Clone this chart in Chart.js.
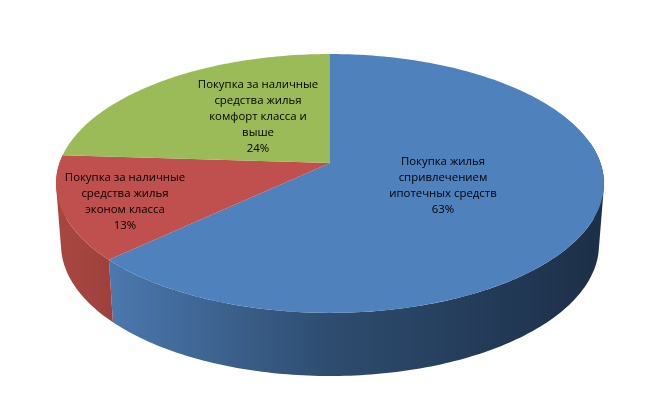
<!DOCTYPE html>
<html>
<head>
<meta charset="utf-8">
<style>
    html, body { margin: 0; padding: 0; background: #fff; }
    #mine { display: block; }
</style>
<script src="https://cdn.jsdelivr.net/npm/chart.js@4/dist/chart.umd.min.js"></script>
</head>
<body>
<canvas id="mine" width="665" height="417"></canvas>
<script>
    const categories = [
        ["Покупка жилья", "спривлечением", "ипотечных средств"],
        ["Покупка за наличные", "средства жилья", "эконом класса"],
        ["Покупка за наличные", "средства жилья", "комфорт класса и", "выше"]
    ];
    const shares = [63, 13, 24];
    const topColors = ["#4f81bd", "#c0504d", "#9bbb59"];
    const wallColors = [
        ["#4b78ae", "#2e4c6f", "#1c2f48"],
        ["#a8473f", "#a3443f", "#9c403c"],
        ["#7f9a49", "#7f9a49", "#7f9a49"]
    ];
    // centre of each text block
    const labelCentres = [[443, 186], [125, 202], [258, 117]];

    // the pie is seen in perspective, so the rim is a projected circle
    const tilt = 0.158;
    const topFace = { x: 330, y: 163, a: 270.5, b: 126.2 };
    const bottomFace = { x: 330, y: 224, a: 265.6, b: 128 };

    function project(face, t, r) {
        let u = Math.sin(t) * r, v = -Math.cos(t) * r, w = 1 - tilt * v;
        return [face.x + face.a * u / w, face.y + face.b * v / w];
    }

    function rim(ctx, face, from, to) {
        let steps = Math.max(2, Math.ceil(Math.abs(to - from) * 60));
        for (let i = 0; i <= steps; i++) {
            let p = project(face, from + (to - from) * i / steps, 1);
            ctx.lineTo(p[0], p[1]);
        }
    }

    // wall as one path of small quads, all wound the same way so they merge
    function wall(ctx, from, to) {
        let steps = Math.ceil((to - from) * 60);
        for (let i = 0; i < steps; i++) {
            let t0 = from + (to - from) * i / steps, t1 = from + (to - from) * (i + 1) / steps;
            let q = [project(topFace, t0, 1), project(topFace, t1, 1), project(bottomFace, t1, 1), project(bottomFace, t0, 1)];
            let area = 0;
            q.forEach((p, n) => {
                let s = q[(n + 1) % 4];
                area += p[0] * s[1] - s[0] * p[1];
            });
            if (area < 0) q.reverse();
            ctx.moveTo(q[0][0], q[0][1]);
            q.slice(1).forEach(p => ctx.lineTo(p[0], p[1]));
            ctx.closePath();
        }
    }

    const pie3d = {
        id: "pie3d",
        beforeDatasetDraw(chart) {
            let ctx = chart.ctx;
            let arcs = chart.getDatasetMeta(0).data.map(el => {
                let p = el.getProps(["startAngle", "endAngle"], true);
                return { from: p.startAngle + Math.PI / 2, to: p.endAngle + Math.PI / 2 };
            });

            // side wall, only the part turned to the viewer
            let front = [1.4, 4.78];
            arcs.forEach((arc, i) => {
                let from = Math.max(arc.from, front[0]), to = Math.min(arc.to, front[1]);
                if (from >= to) return;
                let grad = ctx.createLinearGradient(600, 0, 110, 0);
                if (i == 1) grad = ctx.createLinearGradient(58, 0, 115, 0);
                let c = wallColors[i];
                if (i == 0) {
                    grad.addColorStop(0, c[2]);
                    grad.addColorStop(0.55, c[1]);
                    grad.addColorStop(1, c[0]);
                } else {
                    grad.addColorStop(0, c[0]);
                    grad.addColorStop(0.5, c[1]);
                    grad.addColorStop(1, c[2]);
                }
                ctx.beginPath();
                wall(ctx, from, to);
                ctx.fillStyle = grad;
                ctx.fill();
            });

            // top face
            arcs.forEach((arc, i) => {
                ctx.beginPath();
                ctx.moveTo(topFace.x, topFace.y);
                rim(ctx, topFace, arc.from, arc.to);
                ctx.closePath();
                ctx.fillStyle = topColors[i];
                ctx.fill();
            });

            // labels
            ctx.fillStyle = "#000";
            ctx.font = "11.4px 'Open Sans'";
            ctx.textAlign = "center";
            ctx.textBaseline = "middle";
            categories.forEach((lines, i) => {
                let all = lines.concat(shares[i] + "%");
                let y = labelCentres[i][1] - (all.length - 1) * 16 / 2;
                all.forEach((line, n) => ctx.fillText(line, labelCentres[i][0], y + n * 16));
            });
            return false;
        }
    };

    new Chart(document.getElementById("mine").getContext("2d"), {
        type: "pie",
        data: {
            labels: categories,
            datasets: [{ data: shares, backgroundColor: topColors, borderWidth: 0 }]
        },
        options: {
            responsive: false,
            animation: false,
            plugins: {
                legend: { display: false },
                tooltip: { enabled: false }
            }
        },
        plugins: [pie3d]
    });
</script>
</body>
</html>
